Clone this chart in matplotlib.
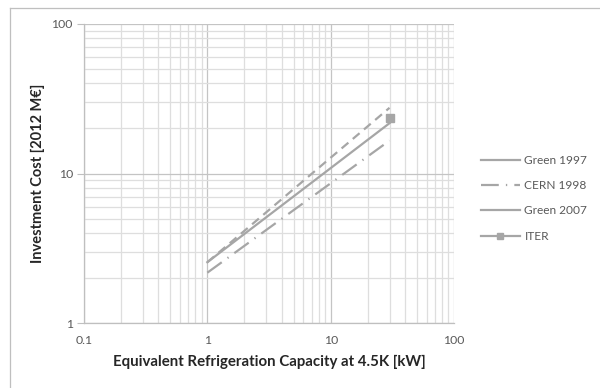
import matplotlib
matplotlib.use("Agg")
import matplotlib.pyplot as plt
from matplotlib.lines import Line2D
from matplotlib.ticker import LogLocator, FixedLocator, NullFormatter

# Data
x_line = [1, 30]
green1997 = [2.55, 27.5]
cern1998 = [2.17, 16.6]
green2007 = [2.55, 21.7]
iter_x = [30]
iter_y = [23.5]

labels = ["Green 1997", "CERN 1998", "Green 2007", "ITER"]
xticks = [0.1, 1, 10, 100]
xticklabels = ["0.1", "1", "10", "100"]
yticks = [1, 10, 100]
yticklabels = ["1", "10", "100"]

plt.rcParams['font.family'] = ['Lato', 'DejaVu Sans']

W, H = 600, 388
fig = plt.figure(figsize=(W / 100, H / 100), dpi=100)
ax = fig.add_axes([84 / W, 1 - 323 / H, (454 - 84) / W, (323 - 24) / H])

lc = '#a6a6a6'
ax.plot(x_line, green1997, color=lc, lw=1.6, dashes=(4, 2.6), solid_capstyle='butt')
ax.plot(x_line, cern1998, color=lc, lw=1.6, dashes=(8, 3.2, 0.6, 3.2))
ax.plot(x_line, green2007, color=lc, lw=1.6)
ax.plot(iter_x, iter_y, color=lc, marker='s', ms=6, ls='none')

ax.set_xscale('log')
ax.set_yscale('log')
ax.set_xlim(0.1, 100)
ax.set_ylim(1, 100)

ax.xaxis.set_major_locator(FixedLocator(xticks))
ax.set_xticklabels(xticklabels)
ax.yaxis.set_major_locator(FixedLocator(yticks))
ax.set_yticklabels(yticklabels)
ax.xaxis.set_minor_locator(LogLocator(base=10, subs=range(2, 10), numticks=20))
ax.yaxis.set_minor_locator(LogLocator(base=10, subs=range(2, 10), numticks=20))
ax.xaxis.set_minor_formatter(NullFormatter())
ax.yaxis.set_minor_formatter(NullFormatter())

ax.grid(which='major', color='#c4c4c4', lw=0.9)
ax.grid(which='minor', color='#dedede', lw=0.9)
ax.set_axisbelow(True)

for s in ['top', 'right']:
    ax.spines[s].set_visible(False)
for s in ['left', 'bottom']:
    ax.spines[s].set_color('#bfbfbf')
    ax.spines[s].set_linewidth(0.9)

ax.tick_params(axis='y', which='major', length=5, color='#bfbfbf', pad=3,
               labelsize=8.8, labelcolor='#595959')
ax.tick_params(axis='x', which='major', length=0, pad=9,
               labelsize=8.8, labelcolor='#595959')
ax.tick_params(which='minor', length=0)

ax.set_xlabel("Equivalent Refrigeration Capacity at 4.5K [kW]", fontsize=10.8,
              fontweight='bold', color='#262626', labelpad=6)
ax.set_ylabel("Investment Cost [2012 M€]", fontsize=10.5,
              fontweight='bold', color='#262626', labelpad=5)

handles = [
    Line2D([], [], color=lc, lw=1.6),
    Line2D([], [], color=lc, lw=1.6, dashes=(8, 3.2, 0.6, 3.2)),
    Line2D([], [], color=lc, lw=1.6),
    Line2D([], [], color=lc, lw=1.6, marker='s', ms=5),
]
leg = fig.legend(handles, labels, loc='upper left',
                 bbox_to_anchor=(476 / W, 1 - 150 / H), frameon=False,
                 fontsize=8.6, handlelength=3.3, handletextpad=0.35,
                 labelspacing=1.2, borderaxespad=0)
for t in leg.get_texts():
    t.set_color('#595959')

# outer chart-area border
fig.add_artist(Line2D([10 / W, 1], [1 - 8 / H, 1 - 8 / H], color='#bfbfbf', lw=0.9,
                      transform=fig.transFigure))
fig.add_artist(Line2D([10 / W, 10 / W], [0, 1 - 8 / H], color='#bfbfbf', lw=0.9,
                      transform=fig.transFigure))

fig.savefig("out.png", dpi=100)
